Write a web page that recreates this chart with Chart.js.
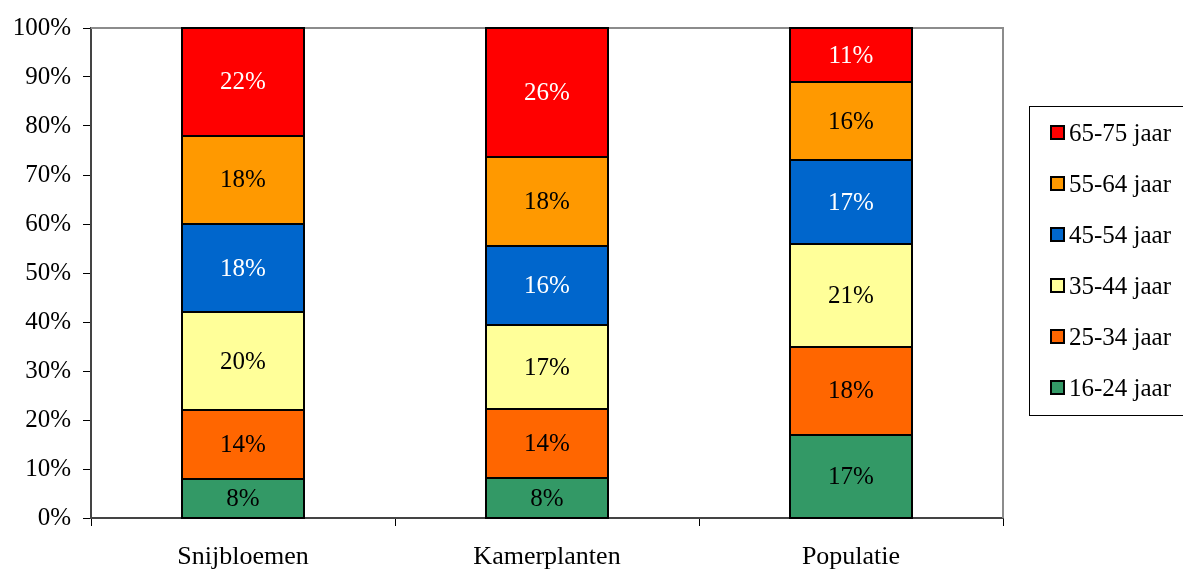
<!DOCTYPE html>
<html>
<head>
<meta charset="utf-8">
<script src="https://cdn.jsdelivr.net/npm/chart.js@4/dist/chart.umd.min.js"></script>
<style>
  html, body { margin: 0; padding: 0; background: #ffffff; }
  #wrap { width: 1183px; height: 569px; }
</style>
</head>
<body>
<div id="wrap"><canvas id="chart" width="1183" height="569"></canvas></div>
<script>
// Leeftijdsopbouw per groep (percentages)
const categories = ['Snijbloemen', 'Kamerplanten', 'Populatie'];
const ageGroups = ['16-24 jaar', '25-34 jaar', '35-44 jaar', '45-54 jaar', '55-64 jaar', '65-75 jaar'];
const age16_24 = [8, 8, 17];
const age25_34 = [14, 14, 18];
const age35_44 = [20, 17, 21];
const age45_54 = [18, 16, 17];
const age55_64 = [18, 18, 16];
const age65_75 = [22, 26, 11];
const yTickValues = [0, 10, 20, 30, 40, 50, 60, 70, 80, 90, 100];

const seriesValues = [age16_24, age25_34, age35_44, age45_54, age55_64, age65_75];
const fillColors = ['#339966', '#FF6600', '#FFFF99', '#0066CC', '#FF9900', '#FF0000'];
const labelColors = ['#000000', '#000000', '#000000', '#ffffff', '#000000', '#ffffff'];

// 100% gestapeld: elke kolom wordt naar zijn eigen totaal geschaald
const totals = categories.map((_, i) => seriesValues.reduce((s, arr) => s + arr[i], 0));

const FONT = "'Liberation Serif', 'Times New Roman', serif";
Chart.defaults.font.family = FONT;
Chart.defaults.color = '#000000';

const datasets = ageGroups.map((name, k) => ({
  label: name,
  data: seriesValues[k].map((v, i) => v / totals[i] * 100),
  raw: seriesValues[k],
  backgroundColor: fillColors[k],
  borderWidth: 0,
  inflateAmount: 0,
  labelColor: labelColors[k],
  categoryPercentage: 1.0,
  barPercentage: 0.4
}));

// Grijze rand boven en rechts van het plotgebied
const frame = {
  id: 'frame',
  beforeDatasetsDraw(chart) {
    const { ctx, chartArea: a } = chart;
    ctx.save();
    ctx.strokeStyle = '#8c8c8c';
    ctx.lineWidth = 2;
    ctx.beginPath();
    ctx.moveTo(a.left, a.top);
    ctx.lineTo(a.right, a.top);
    ctx.lineTo(a.right, a.bottom);
    ctx.stroke();
    ctx.restore();
  }
};

// Zwarte omlijning per segment en het percentage in het midden
const segmentLabels = {
  id: 'segmentLabels',
  afterDatasetsDraw(chart) {
    const { ctx } = chart;
    ctx.save();
    ctx.strokeStyle = '#000000';
    ctx.lineWidth = 2;
    chart.data.datasets.forEach((ds, k) => {
      chart.getDatasetMeta(k).data.forEach((bar) => {
        const { x, y, base, width } = bar.getProps(['x', 'y', 'base', 'width'], true);
        const l = Math.round(x - width / 2), r = Math.round(x + width / 2);
        const t = Math.round(y), b = Math.round(base);
        ctx.strokeRect(l, t, r - l, b - t);
      });
    });
    ctx.font = '25px ' + FONT;
    ctx.textAlign = 'center';
    ctx.textBaseline = 'middle';
    chart.data.datasets.forEach((ds, k) => {
      chart.getDatasetMeta(k).data.forEach((bar, i) => {
        const { x, y, base } = bar.getProps(['x', 'y', 'base'], true);
        ctx.fillStyle = ds.labelColor;
        ctx.fillText(ds.raw[i] + '%', x, (y + base) / 2 + 1);
      });
    });
    ctx.restore();
  }
};

// Legenda rechts, bovenste reeks eerst
const sideLegend = {
  id: 'sideLegend',
  afterDraw(chart) {
    const { ctx } = chart;
    const boxX = 1029.5, boxY = 106.5, boxW = 200, boxH = 309;
    ctx.save();
    ctx.strokeStyle = '#000000';
    ctx.lineWidth = 1;
    ctx.strokeRect(boxX, boxY, boxW, boxH);
    ctx.font = '25px ' + FONT;
    ctx.textBaseline = 'middle';
    ctx.textAlign = 'left';
    const items = chart.data.datasets.slice().reverse();
    items.forEach((ds, j) => {
      const cy = 133 + j * 51;
      ctx.fillStyle = ds.backgroundColor;
      ctx.fillRect(1051, cy - 7, 13, 13);
      ctx.strokeStyle = '#000000';
      ctx.lineWidth = 2;
      ctx.strokeRect(1051, cy - 7, 13, 13);
      ctx.fillStyle = '#000000';
      ctx.fillText(ds.label, 1069, cy + 1);
    });
    ctx.restore();
  }
};

new Chart(document.getElementById('chart'), {
  type: 'bar',
  data: { labels: categories, datasets },
  options: {
    responsive: false,
    animation: false,
    events: [],
    layout: { padding: { left: 0, top: 28, right: 180, bottom: 0 } },
    plugins: {
      legend: { display: false },
      tooltip: { enabled: false }
    },
    scales: {
      x: {
        stacked: true,
        offset: true,
        grid: { display: true, drawOnChartArea: false, offset: true, tickLength: 8, color: '#000000', lineWidth: 1 },
        border: { display: true, color: '#444444', width: 2 },
        ticks: { font: { size: 26 }, color: '#000000', padding: 16, maxRotation: 0 },
        afterFit(scale) { scale.height = 51; }
      },
      y: {
        stacked: true,
        min: 0,
        max: 100,
        afterBuildTicks(scale) { scale.ticks = yTickValues.map(v => ({ value: v })); },
        grid: { display: true, drawOnChartArea: false, tickLength: 8, color: '#000000', lineWidth: 1 },
        border: { display: true, color: '#444444', width: 2 },
        ticks: { font: { size: 25 }, color: '#000000', padding: 12, callback: v => v + '%' },
        afterFit(scale) { scale.width = 91; }
      }
    }
  },
  plugins: [frame, segmentLabels, sideLegend]
});
</script>
</body>
</html>
